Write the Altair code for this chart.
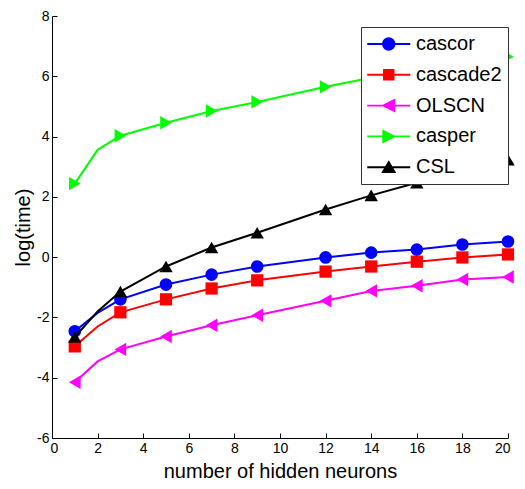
import altair as alt
import pandas as pd

# ---- data ----
x_vals = [1, 2, 3, 5, 7, 9, 12, 14, 16, 18, 20]
marker_x = [1, 3, 5, 7, 9, 12, 14, 16, 18, 20]
series_names = ["cascor", "cascade2", "OLSCN", "casper", "CSL"]
cascor = [-2.46, -1.85, -1.40, -0.91, -0.58, -0.31, -0.01, 0.15, 0.25, 0.42, 0.52]
cascade2 = [-2.96, -2.30, -1.83, -1.40, -1.04, -0.77, -0.48, -0.31, -0.15, -0.01, 0.09]
olscn = [-4.15, -3.46, -3.06, -2.63, -2.26, -1.93, -1.45, -1.12, -0.95, -0.74, -0.66]
casper = [2.44, 3.56, 4.03, 4.46, 4.85, 5.15, 5.65, 5.95, 6.20, 6.42, 6.65]
csl = [-2.65, -1.80, -1.14, -0.31, 0.32, 0.81, 1.58, 2.05, 2.47, 2.85, 3.23]
x_ticks = [0, 2, 4, 6, 8, 10, 12, 14, 16, 18, 20]
y_ticks = [-6, -4, -2, 0, 2, 4, 6, 8]

# ---- styles ----
colors = ["#0000ff", "#ff0000", "#ff00ff", "#00ff00", "#000000"]
shapes = ["circle", "square", "triangle-left", "triangle-right", "triangle-up"]
sizes = [160, 150, 180, 180, 180]
line_part = "M-1,-0.09H3V0.09H-1Z "
legend_paths = [
    line_part + "M1.62,0A0.62,0.62 0 1,1 0.38,0A0.62,0.62 0 1,1 1.62,0Z",
    line_part + "M0.47,-0.53H1.53V0.53H0.47Z",
    line_part + "M0.3,0L1.6,-0.65L1.6,0.65Z",
    line_part + "M1.7,0L0.4,0.65L0.4,-0.65Z",
    line_part + "M1,-0.65L1.7,0.55L0.3,0.55Z",
]

values = [cascor, cascade2, olscn, casper, csl]
rows = []
for name, vals in zip(series_names, values):
    for xv, yv in zip(x_vals, vals):
        rows.append({"series": name, "x": xv, "y": yv})
df = pd.DataFrame(rows)

FONT = "Liberation Sans"

x_enc = alt.X(
    "x:Q",
    scale=alt.Scale(domain=[0, 20], nice=False, zero=False),
    axis=alt.Axis(
        values=x_ticks, title="number of hidden neurons",
        labelExpr="'' + datum.value",
        labelFlush=True, labelFlushOffset=2,
        grid=True, gridDash=[5, 417], gridDashOffset=5, gridColor="black",
        gridOpacity=1, gridWidth=1, ticks=False, tickSize=0,
        labelPadding=3, titlePadding=6,
    ),
)
y_enc = alt.Y(
    "y:Q",
    scale=alt.Scale(domain=[-6, 8], nice=False, zero=False),
    axis=alt.Axis(
        values=y_ticks, title="log(time)",
        labelExpr="'' + datum.value",
        grid=True, gridDash=[5, 2000], gridColor="black",
        gridOpacity=1, gridWidth=1, ticks=False, tickSize=0,
        labelPadding=3, titlePadding=3,
    ),
)

base = alt.Chart(df)
layers = []
for name, col, shp, sz in zip(series_names, colors, shapes, sizes):
    sub = base.transform_filter(alt.datum.series == name)
    layers.append(sub.mark_line(color=col, strokeWidth=2).encode(x=x_enc, y=y_enc))
    layers.append(
        sub.transform_filter(alt.FieldOneOfPredicate(field="x", oneOf=marker_x))
        .mark_point(filled=True, shape=shp, size=sz, color=col, opacity=1)
        .encode(x=x_enc, y=y_enc)
    )

legend_props = dict(
    title=None, orient="none", legendX=309, legendY=11,
    labelFont=FONT, labelFontSize=20, labelColor="black",
    symbolSize=462, labelOffset=27, rowPadding=9.8, padding=6,
    strokeColor="#333333", fillColor="white", symbolOpacity=1,
    symbolStrokeWidth=0, labelLimit=300,
)

legend_layer = base.mark_point(filled=True, opacity=0).encode(
    x=x_enc,
    y=y_enc,
    color=alt.Color(
        "series:N",
        scale=alt.Scale(domain=series_names, range=colors),
        legend=alt.Legend(**legend_props),
    ),
    shape=alt.Shape(
        "series:N",
        scale=alt.Scale(domain=series_names, range=legend_paths),
        legend=alt.Legend(**legend_props),
    ),
)

chart = (
    alt.layer(*layers, legend_layer)
    .properties(
        width=509, height=473,
        padding={"left": 5, "top": 1, "right": 0, "bottom": 0},
        autosize=alt.AutoSizeParams(type="fit", contains="padding"),
    )
    .configure_view(stroke=None)
    .configure_axis(
        domainColor="black", domainWidth=1,
        labelFont=FONT, labelFontSize=14, labelColor="black",
        titleFont=FONT, titleFontSize=20, titleColor="black", titleFontWeight="normal",
    )
)

chart.save("out.html", embed_options={"renderer": "svg", "actions": False})
